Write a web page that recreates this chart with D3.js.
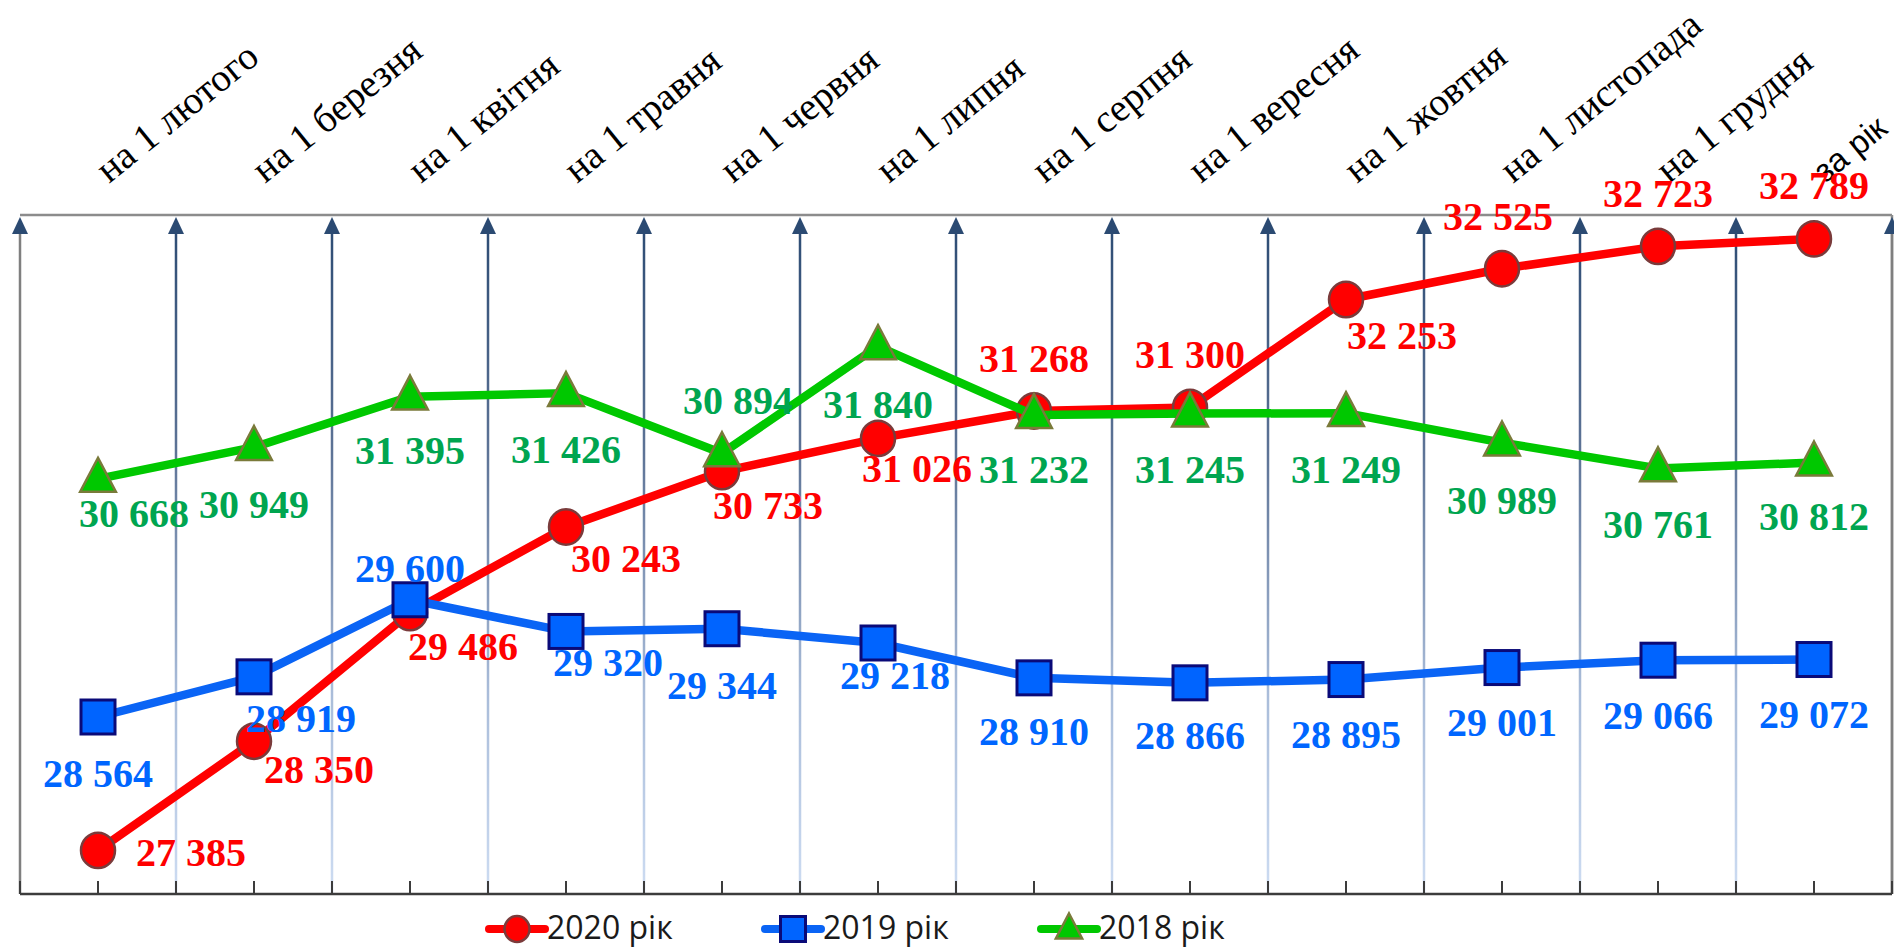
<!DOCTYPE html>
<html><head><meta charset="utf-8">
<script src="https://cdn.jsdelivr.net/npm/d3@7"></script>
<style>body{margin:0;background:#fff}svg{display:block}</style>
</head><body><svg id="c" width="1894" height="949"></svg>
<script>
const categories = ["на 1 лютого","на 1 березня","на 1 квітня","на 1 травня","на 1 червня","на 1 липня","на 1 серпня","на 1 вересня","на 1 жовтня","на 1 листопада","на 1 грудня","за рік"];
const values2020 = [27385,28350,29486,30243,30733,31026,31268,31300,32253,32525,32723,32789];
const values2019 = [28564,28919,29600,29320,29344,29218,28910,28866,28895,29001,29066,29072];
const values2018 = [30668,30949,31395,31426,30894,31840,31232,31245,31249,30989,30761,30812];
const seriesNames = ["2020 рік","2019 рік","2018 рік"];
const yDomain = [27000, 33000];

// label placement offsets (layout only)
const off2020 = [[93,2],[65,28],[53,34],[60,31],[46,34],[39,30],[0,-53],[0,-53],[56,36],[-4,-52],[0,-53],[0,-53]];
const off2019 = [[0,56],[47,42],[0,-31],[42,31],[0,57],[17,33],[0,54],[0,53],[0,55],[0,55],[0,55],[0,55]];
const off2018 = [[36,35],[0,57],[0,54],[0,56],[16,-53],[0,58],[0,54],[0,56],[0,56],[0,58],[0,56],[0,54]];

const svg = d3.select("#c");
const L = 20, R = 1892, T = 215, B = 894;
const x = d3.scaleBand().domain(categories).range([L, R]);
const cx = c => x(c) + x.bandwidth() / 2;
const y = d3.scaleLinear().domain(yDomain).range([B, T]);

const defs = svg.append("defs");
const grad = defs.append("linearGradient").attr("id","gl").attr("gradientUnits","userSpaceOnUse")
  .attr("x1",0).attr("y1",T).attr("x2",0).attr("y2",B);
grad.append("stop").attr("offset","0%").attr("stop-color","#2b4a72");
grad.append("stop").attr("offset","35%").attr("stop-color","#5d7396");
grad.append("stop").attr("offset","70%").attr("stop-color","#a9bcd9");
grad.append("stop").attr("offset","100%").attr("stop-color","#cddcf2");

// frame
svg.append("line").attr("x1",L).attr("x2",R).attr("y1",T).attr("y2",T).attr("stroke","#8c8c8c").attr("stroke-width",2.5);
svg.append("line").attr("x1",R).attr("x2",R).attr("y1",T).attr("y2",B).attr("stroke","#8c8c8c").attr("stroke-width",2.5);

// arrows at category boundaries
const bounds = categories.map(c => x(c)).concat([x.range()[1]]);
const g = svg.append("g");
bounds.forEach((bx, i) => {
  const edge = (i === 0 || i === bounds.length - 1);
  g.append("line").attr("x1",bx).attr("x2",bx).attr("y1",B).attr("y2",T+14)
    .attr("stroke", edge ? "#7f7f7f" : "url(#gl)").attr("stroke-width", 2.5);
  g.append("path").attr("d",`M${bx-8},${T+19} L${bx},${T+2} L${bx+8},${T+19} Z`).attr("fill","#2b4a72");
});

// bottom axis
const axis = d3.axisBottom(x).tickSize(-13).tickFormat("");
const ag = svg.append("g").attr("transform",`translate(0,${B})`).call(axis);
ag.select(".domain").attr("stroke","#3c3c3c").attr("stroke-width",2.5).attr("d",`M${L},0H${R}`);
ag.selectAll(".tick line").attr("stroke","#3c3c3c").attr("stroke-width",2);
const bt = svg.append("g").attr("transform",`translate(0,${B})`);
bounds.forEach(bx => bt.append("line").attr("x1",bx).attr("x2",bx).attr("y1",0).attr("y2",-13).attr("stroke","#3c3c3c").attr("stroke-width",2));

// category labels (top, rotated)
const lastCat = categories[categories.length - 1];
svg.append("g").selectAll("text").data(categories).join("text")
  .attr("transform", c => `translate(${cx(c)+11},${T-31}) rotate(-39)`)
  .attr("font-family", c => c === lastCat ? "'Liberation Sans',Arial,sans-serif" : "'Liberation Serif','Times New Roman',serif")
  .attr("font-size", c => c === lastCat ? 33 : 39)
  .attr("fill","#000").text(c => c);

const series = [
  {name: seriesNames[0], vals: values2020, off: off2020, line:"#ff0000", fill:"#ff0000", stroke:"#7a3b3b", label:"#ff0000", shape:"circle"},
  {name: seriesNames[1], vals: values2019, off: off2019, line:"#0a64f5", fill:"#0064ff", stroke:"#0a0a78", label:"#0066ff", shape:"square"},
  {name: seriesNames[2], vals: values2018, off: off2018, line:"#00c800", fill:"#00c800", stroke:"#7a7a3a", label:"#00a550", shape:"triangle"}
];

function marker(sel, shape, px, py, s, fill, stroke) {
  if (shape === "circle") {
    sel.append("ellipse").attr("cx",px).attr("cy",py).attr("rx",s*0.5).attr("ry",s*0.52).attr("fill",fill).attr("stroke",stroke).attr("stroke-width",2.5);
  } else if (shape === "square") {
    sel.append("rect").attr("x",px-s/2).attr("y",py-s/2).attr("width",s).attr("height",s).attr("fill",fill).attr("stroke",stroke).attr("stroke-width",3);
  } else {
    const w = s*1.05, h = s;
    sel.append("path").attr("d",`M${px},${py-h*0.62} L${px+w/2},${py+h*0.38} L${px-w/2},${py+h*0.38} Z`).attr("fill",fill).attr("stroke",stroke).attr("stroke-width",2.5);
  }
}

const lineGen = d3.line().x((d,i) => cx(categories[i])).y(d => y(d));
series.forEach(s => {
  const sg = svg.append("g");
  sg.append("path").attr("d", lineGen(s.vals)).attr("fill","none").attr("stroke",s.line).attr("stroke-width",8.5).attr("stroke-linejoin","round");
  s.vals.forEach((v,i) => marker(sg, s.shape, cx(categories[i]), y(v), 34, s.fill, s.stroke));
});

const fmt = v => d3.format(",")(v).replace(/,/g," ");
series.forEach(s => {
  svg.append("g").selectAll("text").data(s.vals).join("text")
    .attr("x",(v,i) => cx(categories[i]) + s.off[i][0])
    .attr("y",(v,i) => y(v) + s.off[i][1])
    .attr("text-anchor","middle").attr("dominant-baseline","central")
    .attr("font-family","'Liberation Serif','Times New Roman',serif").attr("font-weight","bold").attr("font-size",40)
    .attr("fill",s.label).text(fmt);
});

// legend
const legX = [489, 765, 1041], legY = 929;
series.forEach((s,i) => {
  const lg = svg.append("g");
  lg.append("line").attr("x1",legX[i]).attr("x2",legX[i]+56).attr("y1",legY).attr("y2",legY).attr("stroke",s.line).attr("stroke-width",8).attr("stroke-linecap","round");
  marker(lg, s.shape, legX[i]+28, legY, 25, s.fill, s.stroke);
  lg.append("text").attr("x",legX[i]+58).attr("y",legY+10)
    .attr("font-family","'Liberation Sans Narrow','Open Sans',sans-serif").attr("font-size",32).attr("fill","#1a1a1a").text(s.name);
});
</script></body></html>
